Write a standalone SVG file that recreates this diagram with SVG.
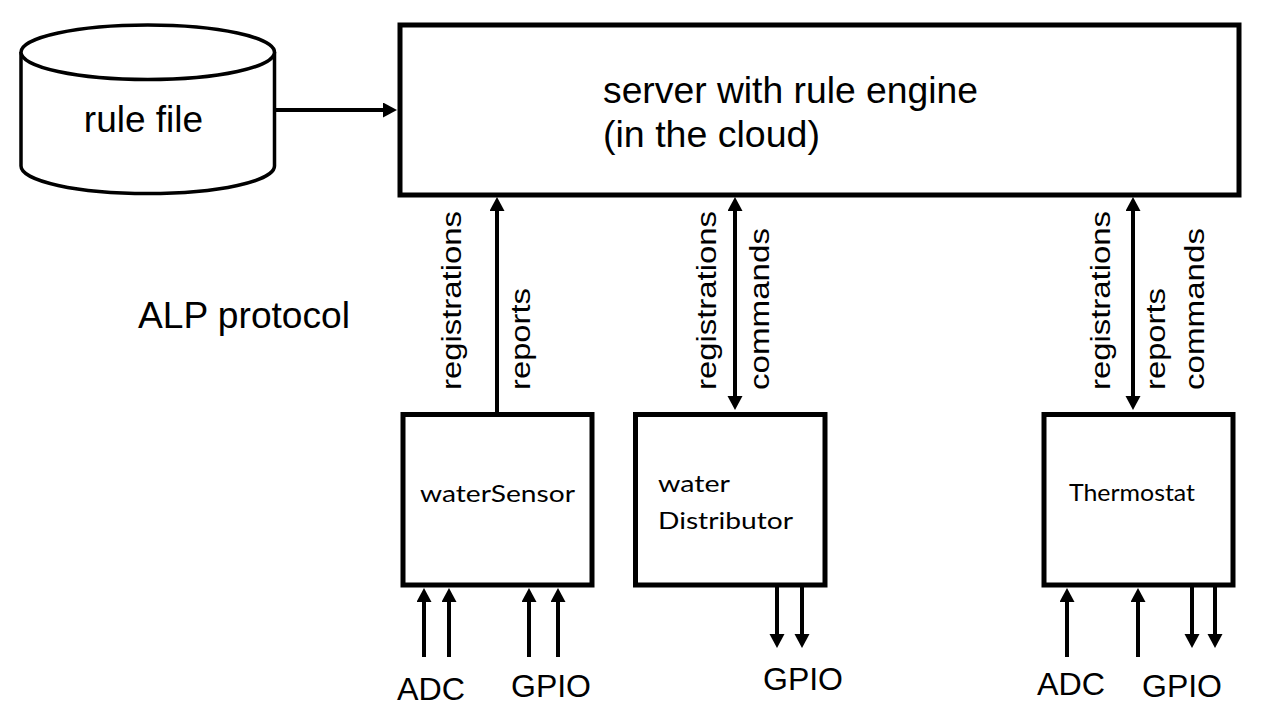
<svg xmlns="http://www.w3.org/2000/svg" width="1262" height="723" viewBox="0 0 1262 723">
<style>
.box{fill:#fff;stroke:#000;stroke-width:5}
.cyl{fill:#fff;stroke:#000;stroke-width:3.5}
.lbl{font-family:"Liberation Sans",Arial,sans-serif;fill:#000}
.big{font-size:37px}
.rot{font-size:27px}
.io{font-size:32px}
.dev{font-family:Lato,"Noto Sans",sans-serif;font-size:24px;fill:#000}
.con{fill:none;stroke:#000;stroke-width:4}
</style>
<defs>
<marker id="ah" markerUnits="userSpaceOnUse" markerWidth="16" markerHeight="16" refX="3" refY="7.5" orient="auto-start-reverse">
<path d="M0,0 L14,7.5 L0,15 z" fill="#000"/>
</marker>
</defs>
<rect width="1262" height="723" fill="#fff"/>

<g id="rule-file">
<path class="cyl" d="M21,52 L21,166 A126.75,27.5 0 0 0 274.5,166 L274.5,52"/>
<ellipse class="cyl" cx="147.75" cy="52.25" rx="126.75" ry="27.25"/>
<text class="lbl big" x="143.5" y="132" text-anchor="middle">rule file</text>
</g>

<g id="server">
<rect class="box" x="400" y="25" width="839" height="170"/>
<text class="lbl big" x="603" y="103" textLength="375" lengthAdjust="spacingAndGlyphs">server with rule engine</text>
<text class="lbl big" x="603" y="147" textLength="217" lengthAdjust="spacingAndGlyphs">(in the cloud)</text>
</g>

<g id="alp-label">
<text class="lbl big" x="138" y="328" textLength="212" lengthAdjust="spacingAndGlyphs">ALP protocol</text>
</g>

<g id="waterSensor">
<rect class="box" x="403" y="414.5" width="189" height="170.5"/>
<text class="dev" x="420" y="502" textLength="155" lengthAdjust="spacingAndGlyphs">waterSensor</text>
</g>

<g id="waterDistributor">
<rect class="box" x="635.5" y="414.5" width="189.5" height="170.5"/>
<text class="dev" x="658" y="492" textLength="72" lengthAdjust="spacingAndGlyphs">water</text>
<text class="dev" x="658" y="529" textLength="135" lengthAdjust="spacingAndGlyphs">Distributor</text>
</g>

<g id="thermostat">
<rect class="box" x="1044" y="414.5" width="189" height="170.5"/>
<text class="dev" x="1069" y="501" textLength="126" lengthAdjust="spacingAndGlyphs">Thermostat</text>
</g>

<g id="connectors">
<line class="con" x1="276" y1="110" x2="386" y2="110" marker-end="url(#ah)"/>
<line class="con" x1="497" y1="412" x2="497" y2="208" marker-end="url(#ah)"/>
<line class="con" x1="735" y1="399" x2="735" y2="208" marker-start="url(#ah)" marker-end="url(#ah)"/>
<line class="con" x1="1133" y1="399" x2="1133" y2="208" marker-start="url(#ah)" marker-end="url(#ah)"/>

<line class="con" x1="424" y1="657" x2="424" y2="599" marker-end="url(#ah)"/>
<line class="con" x1="449" y1="657" x2="449" y2="599" marker-end="url(#ah)"/>
<line class="con" x1="529" y1="657" x2="529" y2="599" marker-end="url(#ah)"/>
<line class="con" x1="558" y1="657" x2="558" y2="599" marker-end="url(#ah)"/>

<line class="con" x1="777" y1="587" x2="777" y2="637" marker-end="url(#ah)"/>
<line class="con" x1="802" y1="587" x2="802" y2="637" marker-end="url(#ah)"/>

<line class="con" x1="1067" y1="657" x2="1067" y2="599" marker-end="url(#ah)"/>
<line class="con" x1="1138" y1="657" x2="1138" y2="599" marker-end="url(#ah)"/>
<line class="con" x1="1192" y1="587" x2="1192" y2="637" marker-end="url(#ah)"/>
<line class="con" x1="1215" y1="587" x2="1215" y2="637" marker-end="url(#ah)"/>
</g>

<g id="connector-labels">
<text class="lbl rot" transform="translate(461,390) rotate(-90)" textLength="179" lengthAdjust="spacingAndGlyphs">registrations</text>
<text class="lbl rot" transform="translate(530,390) rotate(-90)" textLength="102" lengthAdjust="spacingAndGlyphs">reports</text>
<text class="lbl rot" transform="translate(716,390) rotate(-90)" textLength="179" lengthAdjust="spacingAndGlyphs">registrations</text>
<text class="lbl rot" transform="translate(769,390) rotate(-90)" textLength="162" lengthAdjust="spacingAndGlyphs">commands</text>
<text class="lbl rot" transform="translate(1110,390) rotate(-90)" textLength="179" lengthAdjust="spacingAndGlyphs">registrations</text>
<text class="lbl rot" transform="translate(1165,390) rotate(-90)" textLength="102" lengthAdjust="spacingAndGlyphs">reports</text>
<text class="lbl rot" transform="translate(1204,390) rotate(-90)" textLength="162" lengthAdjust="spacingAndGlyphs">commands</text>
</g>

<g id="io-labels">
<text class="lbl io" x="397" y="700" textLength="68" lengthAdjust="spacingAndGlyphs">ADC</text>
<text class="lbl io" x="511" y="697" textLength="80" lengthAdjust="spacingAndGlyphs">GPIO</text>
<text class="lbl io" x="763" y="690" textLength="80" lengthAdjust="spacingAndGlyphs">GPIO</text>
<text class="lbl io" x="1037" y="695" textLength="68" lengthAdjust="spacingAndGlyphs">ADC</text>
<text class="lbl io" x="1142" y="697" textLength="80" lengthAdjust="spacingAndGlyphs">GPIO</text>
</g>
</svg>
